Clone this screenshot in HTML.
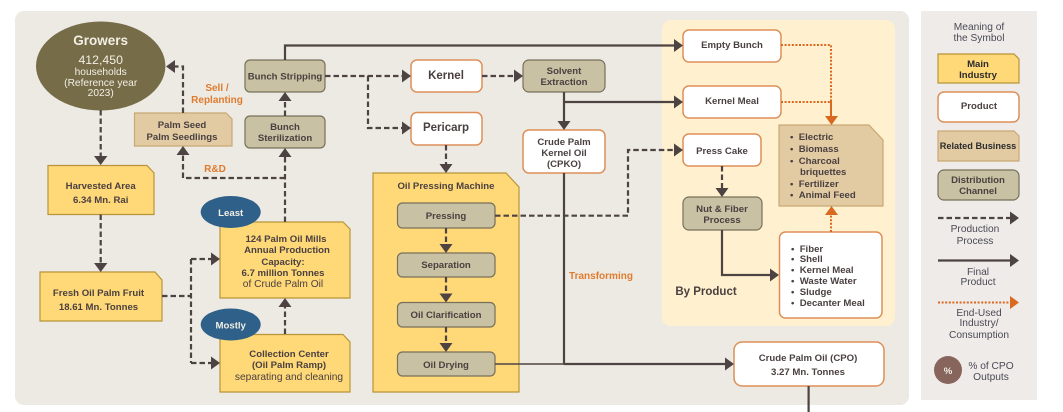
<!DOCTYPE html>
<html><head><meta charset="utf-8"><style>
html,body{margin:0;padding:0;background:#fff}
svg{display:block}
text{font-family:"Liberation Sans",sans-serif;fill:#4a4040;text-anchor:middle;font-weight:bold;font-size:9.6px}
.n{font-weight:normal;font-size:10.200px}
.g{fill:#4a4a55}
.o{fill:#e07b2e;font-size:10px}
.w{fill:#f2efe6}
.y{fill:#ffd878;stroke:#b8953a;stroke-width:1.2}
.p{fill:#fff;stroke:#dd8f58;stroke-width:1.5}
.c{fill:#c9c1a3;stroke:#77705a;stroke-width:1.2}
.t{fill:#e2cba3;stroke:#c9a873;stroke-width:1.2}
.d{fill:none;stroke:#4e4343;stroke-width:2.200;stroke-dasharray:5.500 3}
.s{fill:none;stroke:#4e4343;stroke-width:2.200}
.e{fill:none;stroke:#d9691e;stroke-width:2;stroke-dasharray:2 1.600}
.a{fill:#4e4343}
.b{fill:#d9691e}
</style></head><body>
<svg width="1063" height="412" viewBox="0 0 1063 412" xmlns="http://www.w3.org/2000/svg">
<rect x="15" y="11" width="894" height="394" rx="9" fill="#eceae3"/>
<rect x="662" y="20" width="233" height="306" rx="9" fill="#fff1cf"/>
<rect x="921" y="11" width="116" height="389" fill="#eeebe9"/>

<!-- growers -->
<ellipse cx="100.700" cy="66" rx="64.700" ry="44.500" fill="#766c48"/>
<text class="w" x="100.700" y="45" style="font-size:13.500px">Growers</text>
<text class="n w" x="100.700" y="64" style="font-size:12.300px">412,450</text>
<text class="n w" x="100.700" y="75">households</text>
<text class="n w" x="100.700" y="86">(Reference year</text>
<text class="n w" x="100.700" y="96">2023)</text>

<!-- notched yellow -->
<path class="y" d="M48 165.500H147L154 173V214.500H48Z"/>
<text x="100.700" y="189">Harvested Area</text><text x="100.700" y="203">6.34 Mn. Rai</text>
<path class="y" d="M40 272H155L162 280V321H40Z"/>
<text x="98.500" y="296">Fresh Oil Palm Fruit</text><text x="98.500" y="310">18.61 Mn. Tonnes</text>
<path class="y" d="M220 222H343L350 229V298H220Z"/>
<text x="286" y="242">124 Palm Oil Mills</text><text x="287" y="253">Annual Production</text><text x="283" y="265">Capacity:</text><text x="283" y="276">6.7 million Tonnes</text><text class="n" x="283" y="287">of Crude Palm Oil</text>
<path class="y" d="M220 334.500H343L350 342V392H220Z"/>
<text x="289" y="357">Collection Center</text><text x="289" y="368">(Oil Palm Ramp)</text><text class="n" x="289" y="380">separating and cleaning</text>
<path class="t" d="M134.500 113H226L232 119V146H134.500Z"/>
<text x="182" y="128">Palm Seed</text><text x="182" y="140">Palm Seedlings</text>

<ellipse cx="230.700" cy="212" rx="30" ry="16" fill="#2f6089"/>
<text class="w" x="230.700" y="216">Least</text>
<ellipse cx="230.700" cy="324.500" rx="30" ry="16" fill="#2f6089"/>
<text class="w" x="230.700" y="328.500">Mostly</text>

<rect class="c" x="245" y="60" width="80" height="32" rx="5"/><text x="285" y="79.500">Bunch Stripping</text>
<rect class="c" x="245" y="116" width="80" height="32" rx="5"/><text x="285" y="130">Bunch</text><text x="285" y="141">Sterilization</text>

<text class="o" x="217" y="91">Sell  /</text><text class="o" x="217" y="103">Replanting</text><text class="o" x="215" y="172">R&amp;D</text>
<text class="o" x="601" y="279">Transforming</text>

<rect class="p" x="411" y="60" width="71" height="32" rx="6"/><text x="446" y="79" style="font-size:11.500px">Kernel</text>
<rect class="p" x="411" y="112.500" width="71" height="32.500" rx="6"/><text x="446" y="131" style="font-size:11.500px">Pericarp</text>
<rect class="c" x="523" y="60" width="82" height="32" rx="6"/><text x="564" y="74">Solvent</text><text x="564" y="85">Extraction</text>
<rect class="p" x="523" y="130" width="82" height="43" rx="6"/><text x="564" y="145">Crude Palm</text><text x="564" y="156">Kernel Oil</text><text x="564" y="167">(CPKO)</text>

<path class="y" d="M373 173H506L519 187V392H373Z"/>
<text x="446" y="189">Oil Pressing Machine</text>
<rect class="c" x="397.500" y="203" width="97.500" height="25" rx="5"/><text x="446" y="219">Pressing</text>
<rect class="c" x="397.500" y="253" width="97.500" height="24" rx="5"/><text x="446" y="268">Separation</text>
<rect class="c" x="397.500" y="302.500" width="97.500" height="24.500" rx="5"/><text x="446" y="318">Oil Clarification</text>
<rect class="c" x="397.500" y="352" width="97.500" height="24" rx="5"/><text x="446" y="368">Oil Drying</text>

<rect class="p" x="683" y="30" width="98" height="32" rx="6"/><text x="732" y="48">Empty Bunch</text>
<rect class="p" x="683" y="86" width="98" height="32" rx="6"/><text x="732" y="104">Kernel Meal</text>
<rect class="p" x="683" y="134" width="78" height="32" rx="6"/><text x="722" y="154">Press Cake</text>
<rect class="c" x="683" y="197" width="79" height="33" rx="6"/><text x="722" y="212">Nut &amp; Fiber</text><text x="722" y="223">Process</text>
<path class="t" d="M779 125H869L883 140V206H779Z"/>
<text style="text-anchor:start" x="790" y="140">•&#160;&#160;Electric</text>
<text style="text-anchor:start" x="790" y="152">•&#160;&#160;Biomass</text>
<text style="text-anchor:start" x="790" y="164">•&#160;&#160;Charcoal</text>
<text style="text-anchor:start" x="800" y="175">briquettes</text>
<text style="text-anchor:start" x="790" y="187">•&#160;&#160;Fertilizer</text>
<text style="text-anchor:start" x="790" y="198">•&#160;&#160;Animal Feed</text>
<rect class="p" x="779.500" y="232" width="102.500" height="86" rx="6"/>
<text style="text-anchor:start" x="791" y="252">•&#160;&#160;Fiber</text>
<text style="text-anchor:start" x="791" y="262">•&#160;&#160;Shell</text>
<text style="text-anchor:start" x="791" y="273">•&#160;&#160;Kernel Meal</text>
<text style="text-anchor:start" x="791" y="284">•&#160;&#160;Waste Water</text>
<text style="text-anchor:start" x="791" y="295">•&#160;&#160;Sludge</text>
<text style="text-anchor:start" x="791" y="306">•&#160;&#160;Decanter Meal</text>
<text x="706" y="295" style="font-size:11.500px">By Product</text>
<rect class="p" x="734" y="342" width="150" height="44" rx="8"/>
<text x="808" y="361">Crude Palm Oil (CPO)</text><text x="808" y="375">3.27 Mn. Tonnes</text>

<!-- connectors (above the boxes) -->
<path class="d" d="M100.700 110V158M100.700 214.500V265M162 296H191M191 259H213M191 363H213M191 259V363"/>
<path class="d" d="M285 334V304M285 222V154M285 116V98M285 178H183V152M183 113V66.500H172"/>
<path class="d" d="M325 76H404M368 76V128H404M482 76H516M446 145V166M446 228V246M446 277V296M446 327V345"/>
<path class="d" d="M495 215.700H628V150H676M722 166V190"/>
<path class="s" d="M285 60V45.500H676M564 92V123M564 102H676M564 173V364M564 364H727M722 230V275H772M808.600 386V412"/>
<path d="M495 364H564" stroke="#4e4343" stroke-width="1.400" fill="none"/>
<path class="e" d="M781 45H831V115M781 102H831M831 232V214"/>
<path d="M831 100V116" stroke="#d9691e" stroke-width="2"/>
<g class="a">
<polygon points="94,156 107.400,156 100.700,165"/><polygon points="94,263 107.400,263 100.700,272"/>
<polygon points="211,252.500 220,259 211,265.500"/><polygon points="211,356.500 220,363 211,369.500"/>
<polygon points="278.500,307 291.500,307 285,298"/><polygon points="278.500,157 291.500,157 285,148"/><polygon points="278.500,101 291.500,101 285,92"/>
<polygon points="176.500,155 189.500,155 183,146"/><polygon points="175,60 175,73 166,66.500"/>
<polygon points="402,69.500 411,76 402,82.500"/><polygon points="402,121.500 411,128 402,134.500"/><polygon points="514,69.500 523,76 514,82.500"/>
<polygon points="439.500,164 452.500,164 446,173"/><polygon points="439.500,244 452.500,244 446,253"/><polygon points="439.500,293.500 452.500,293.500 446,302.500"/><polygon points="439.500,343 452.500,343 446,352"/>
<polygon points="557.500,121 570.500,121 564,130"/>
<polygon points="674,39 683,45.500 674,52"/><polygon points="674,95.500 683,102 674,108.500"/><polygon points="674,143.500 683,150 674,156.500"/>
<polygon points="715.500,188 728.500,188 722,197"/><polygon points="770,268.500 779,275 770,281.500"/><polygon points="725,357.500 734,364 725,370.500"/>
</g>
<g class="b"><polygon points="825,116 838,116 831.500,125"/><polygon points="825,215 838,215 831.500,206"/></g>

<!-- legend -->
<text class="n g" x="979" y="30">Meaning of</text><text class="n g" x="979" y="41">the Symbol</text>
<path class="y" d="M938 54H1014L1019 59V83H938Z"/><text x="978" y="67" style="fill:#2b2b2b">Main</text><text x="978" y="78" style="fill:#2b2b2b">Industry</text>
<rect class="p" x="938" y="92" width="81" height="30" rx="6"/><text x="979" y="109">Product</text>
<path class="t" d="M938 131H1014L1019 136V161H938Z"/><text x="978" y="149" style="fill:#2b2b2b;font-size:9.200px">Related Business</text>
<rect class="c" x="938" y="170" width="81" height="30" rx="6"/><text x="978" y="183">Distribution</text><text x="978" y="194">Channel</text>
<path class="d" d="M938 218H1012"/><polygon class="a" points="1010,211.500 1019,218 1010,224.500"/>
<text class="n g" x="975" y="232">Production</text><text class="n g" x="975" y="244">Process</text>
<path class="s" d="M938 260.500H1012"/><polygon class="a" points="1010,254 1019,260.500 1010,267"/>
<text class="n g" x="978" y="275">Final</text><text class="n g" x="978" y="285">Product</text>
<path class="e" d="M938 302.500H1012"/><polygon class="b" points="1010,296 1019,302.500 1010,309"/>
<text class="n g" x="979" y="316">End-Used</text><text class="n g" x="979" y="326">Industry/</text><text class="n g" x="979" y="338">Consumption</text>
<circle cx="948" cy="370" r="14" fill="#87655c"/><text class="w" x="948" y="374">%</text>
<text class="n g" x="991" y="369">% of CPO</text><text class="n g" x="991" y="380">Outputs</text>
</svg>
</body></html>
